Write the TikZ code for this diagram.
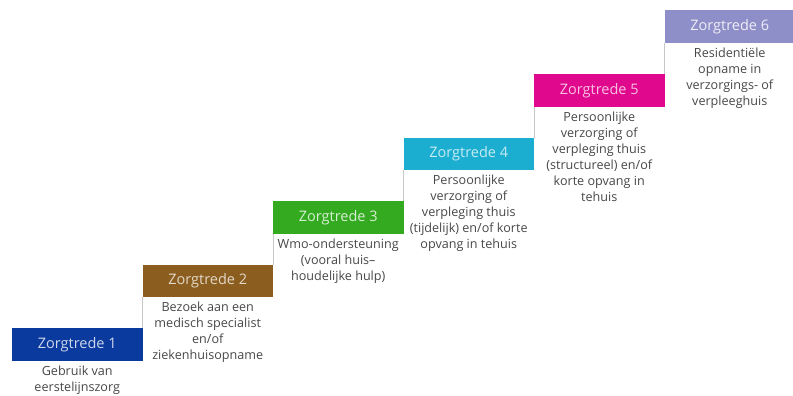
\documentclass[tikz,border=0pt]{standalone}
\usepackage{fontspec}
\setmainfont{Open Sans}
\usetikzlibrary{positioning}

\definecolor{tredeA}{RGB}{11,58,158}
\definecolor{tredeB}{RGB}{139,94,32}
\definecolor{tredeC}{RGB}{52,170,32}
\definecolor{tredeD}{RGB}{28,174,208}
\definecolor{tredeE}{RGB}{224,8,140}
\definecolor{tredeF}{RGB}{142,142,200}

\begin{document}
\begin{tikzpicture}[x=1pt,y=-1pt]
		\tikzstyle{trede}=[rectangle, minimum width=130.5pt, minimum height=32.5pt, inner sep=0pt, outer sep=0pt, font=\fontsize{14.5}{16}\selectfont]
		\tikzstyle{uitleg}=[align=center, inner sep=0pt, text=black!72, font=\fontsize{12.6}{16}\selectfont]
		\tikzstyle{riser}=[draw=black!22, line width=0.8pt]
		\useasboundingbox (0,0) rectangle (793,396);
		\node[trede, fill=tredeA, text=tredeA!20!white, anchor=north west] (z1) at (12,328) {Zorgtrede 1};
		\node[trede, fill=tredeB, text=tredeB!25!white] (z2) [above right=31pt and 0pt of z1] {Zorgtrede 2};
		\node[trede, fill=tredeC, text=tredeC!20!white] (z3) [above right=31pt and 0pt of z2] {Zorgtrede 3};
		\node[trede, fill=tredeD, text=tredeD!25!white] (z4) [above right=31pt and 0pt of z3] {Zorgtrede 4};
		\node[trede, fill=tredeE, text=tredeE!25!white] (z5) [above right=31pt and 0pt of z4] {Zorgtrede 5};
		\node[trede, fill=tredeF, text=tredeF!15!white] (z6) [above right=31pt and 0pt of z5] {Zorgtrede 6};
		
		\node[uitleg] (u1) [below=5pt of z1] {Gebruik van\\eerstelijnszorg};
		\node[uitleg] (u2) [below=5pt of z2] {Bezoek aan een\\medisch specialist\\en/of\\ziekenhuisopname};
		\node[uitleg] (u3) [below=5pt of z3] {Wmo-ondersteuning\\(vooral huis--\\houdelijke hulp)};
		\node[uitleg] (u4) [below=5pt of z4] {Persoonlijke\\verzorging of\\verpleging thuis\\(tijdelijk) en/of korte\\opvang in tehuis};
		\node[uitleg] (u5) [below=5pt of z5] {Persoonlijke\\verzorging of\\verpleging thuis\\(structureel) en/of\\korte opvang in\\tehuis};
		\node[uitleg] (u6) [below=5pt of z6] {Residentiële\\opname in\\verzorgings- of\\verpleeghuis};
		
		%\foreach ... risers tussen de treden
		\path[riser] (z2.south west) -- (z1.north east);
		\path[riser] (z3.south west) -- (z2.north east);
		\path[riser] (z4.south west) -- (z3.north east);
		\path[riser] (z5.south west) -- (z4.north east);
		\path[riser] (z6.south west) -- (z5.north east);
	\end{tikzpicture}
\end{document}
